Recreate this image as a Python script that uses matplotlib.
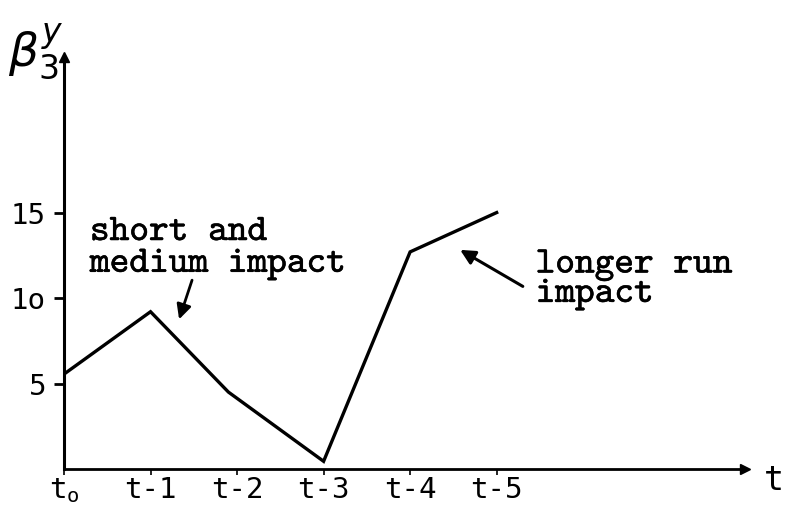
import matplotlib
matplotlib.use("Agg")
import matplotlib.pyplot as plt
import matplotlib.patheffects as pe

# data
t_pos = [0, 1, 1.9, 3, 4, 5]
beta_vals = [5.55, 9.2, 4.5, 0.45, 12.7, 15.0]

x_ticks = [0, 1, 2, 3, 4, 5]
x_labels = ["$t_o$", "t-1", "t-2", "t-3", "t-4", "t-5"]
y_ticks = [5, 10, 15]
y_labels = ["5", "1o", "15"]

plt.rcParams["mathtext.fontset"] = "custom"
plt.rcParams["mathtext.rm"] = "DejaVu Sans Mono"
plt.rcParams["mathtext.it"] = "DejaVu Sans Mono"

fig = plt.figure(figsize=(7.9, 5.12), dpi=100)
ax = fig.add_axes([64 / 790, 43 / 512, 681 / 790, 412 / 512])
ax.set_xlim(0, 7.87)
ax.set_ylim(0, 24.1)

for s in ["top", "right"]:
    ax.spines[s].set_visible(False)
ax.spines["left"].set_linewidth(2.2)
ax.spines["bottom"].set_linewidth(2.0)

# arrow heads on the axes
ax.plot([0], [1], marker="^", color="black", ms=7, transform=ax.transAxes, clip_on=False)
ax.plot([1], [0], marker=">", color="black", ms=7, transform=ax.transAxes, clip_on=False)

ax.plot(t_pos, beta_vals, color="black", lw=2.4, solid_joinstyle="miter")

ax.set_yticks(y_ticks)
ax.set_yticklabels(y_labels, family="DejaVu Sans Mono", fontsize=21)
ax.set_xticks(x_ticks)
ax.set_xticklabels(x_labels, family="DejaVu Sans Mono", fontsize=21)
ax.tick_params(axis="y", direction="out", length=7, width=2, pad=6)
ax.tick_params(axis="x", direction="out", length=4, width=1.2, pad=1)

bold = [pe.withStroke(linewidth=0.4, foreground="black")]
ax.text(0.30, 14.8, "short and\nmedium impact", family="cmtt10",
        fontsize=27, va="top", ha="left", linespacing=0.95, path_effects=bold)
ax.annotate("", xy=(1.32, 8.6), xytext=(1.49, 11.2),
            arrowprops=dict(arrowstyle="-|>", color="black", lw=2, mutation_scale=22))

ax.text(5.45, 12.9, "longer run\nimpact", family="cmtt10",
        fontsize=27, va="top", ha="left", linespacing=0.85, path_effects=bold)
ax.annotate("", xy=(4.55, 12.9), xytext=(5.33, 10.6),
            arrowprops=dict(arrowstyle="-|>", color="black", lw=2.2, mutation_scale=22))

fig.text(8 / 790, 1 - 52 / 512, r"$\beta^y_3$", fontsize=34, va="center", ha="left",
         math_fontfamily="dejavusans")
fig.text(764 / 790, 1 - 480 / 512, "t", family="DejaVu Sans Mono", fontsize=24,
         va="center", ha="left")

fig.savefig("out.png", dpi=100)
